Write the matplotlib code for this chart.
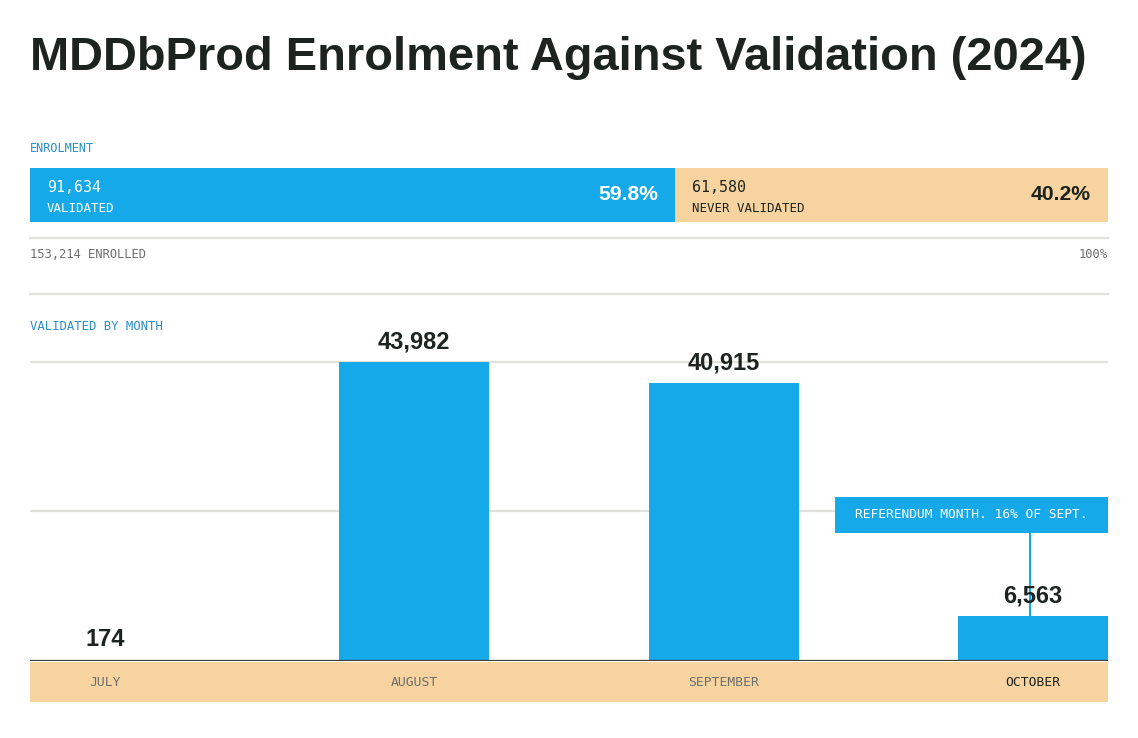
#!/usr/bin/env python3
import matplotlib; matplotlib.use('Agg')
import numpy as np
from matplotlib import pyplot as plt
from matplotlib import transforms as mtransforms
from matplotlib.lines import Line2D
from matplotlib.patches import Rectangle

BLUE = '#16A9EA'
PEACH = '#F7D39F'
DARK = '#1D2420'
GREY = '#6E6E6E'
LABEL_BLUE = '#2A8FC9'
GRID = '#E2E1DB'

SANS = ['Liberation Sans', 'DejaVu Sans']
MONO = ['DejaVu Sans Mono']

# Data ------------------------------------------------------------------------
title = 'MDDbProd Enrolment Against Validation (2024)'
validated = 91634
never_validated = 61580
total_enrolled = 153214

months = ['JULY', 'AUGUST', 'SEPTEMBER', 'OCTOBER']
monthly_validated = [174, 43982, 40915, 6563]
note = 'REFERENDUM MONTH. 16% OF SEPT.'

# Layout helpers (pixel -> figure fraction) -----------------------------------
W, H = 1138, 738
def fx(px):
    return px / W
def fy(py):
    return 1 - py / H

fig = plt.figure(figsize=(W / 100, H / 100), dpi=100)
fig.patch.set_facecolor('white')

left, right = 30, 1108

# title is set tight in the original, so fit it to the same width
t = fig.text(fx(left), fy(70), title, fontsize=35, fontweight='bold',
             color=DARK, family=SANS, ha='left', va='baseline')
renderer = fig.canvas.get_renderer()
tw = t.get_window_extent(renderer).width
t.set_fontsize(35 * 1055 / tw)

fig.text(fx(left), fy(149), 'ENROLMENT', fontsize=8.6, color=LABEL_BLUE,
         family=MONO, ha='left', va='center')

# Enrolment stacked bar -------------------------------------------------------
ax_top = fig.add_axes([fx(left), fy(222), (right - left) / W, 54 / H])
ax_top.barh(0, validated, height=1, color=BLUE, linewidth=0)
ax_top.barh(0, never_validated, left=validated, height=1, color=PEACH,
            linewidth=0)
ax_top.set_xlim(0, total_enrolled)
ax_top.set_ylim(-0.5, 0.5)
ax_top.axis('off')

pct_val = validated / total_enrolled * 100
pct_never = never_validated / total_enrolled * 100
pad = 17 / (right - left) * total_enrolled
ax_top.text(pad, 0.13, f'{validated:,}', fontsize=10.8, color='white',
            family=MONO, va='center')
ax_top.text(pad, -0.25, 'VALIDATED', fontsize=8.9, color='white',
            family=MONO, va='center')
ax_top.text(validated - pad, 0.0, f'{pct_val:.1f}%', fontsize=15.2,
            fontweight='bold', color='white', family=SANS, ha='right',
            va='center')
ax_top.text(validated + pad, 0.13, f'{never_validated:,}', fontsize=10.8,
            color=DARK, family=MONO, va='center')
ax_top.text(validated + pad, -0.25, 'NEVER VALIDATED', fontsize=8.9,
            color=DARK, family=MONO, va='center')
ax_top.text(total_enrolled - pad, 0.0, f'{pct_never:.1f}%', fontsize=15.2,
            fontweight='bold', color=DARK, family=SANS, ha='right',
            va='center')

for py in (238, 294):
    fig.add_artist(Line2D([fx(left), fx(right)], [fy(py), fy(py)],
                          color=GRID, lw=1.6))

fig.text(fx(left), fy(254), f'{total_enrolled:,} ENROLLED', fontsize=8.7,
         color=GREY, family=MONO, ha='left', va='center')
fig.text(fx(right), fy(254), '100%', fontsize=8.7, color=GREY,
         family=MONO, ha='right', va='center')

fig.text(fx(left), fy(327), 'VALIDATED BY MONTH', fontsize=8.8,
         color=LABEL_BLUE, family=MONO, ha='left', va='center')

# Monthly bars ----------------------------------------------------------------
ax = fig.add_axes([fx(left), fy(661), (right - left) / W, (661 - 294) / H])
ax.set_facecolor('none')
x = np.arange(len(months))
bar_width = 0.484
ax.bar(x, monthly_validated, bar_width, color=BLUE, linewidth=0, zorder=2)
ax.set_xlim(-bar_width / 2, len(months) - 1 + bar_width / 2)
ax.set_ylim(0, 54000)
for gy in (22000, 44000):
    ax.axhline(gy, color=GRID, lw=1.6, zorder=0)
ax.axhline(0, color='#3C3C3C', lw=1.6, zorder=3)
for xi, v in zip(x, monthly_validated):
    ax.annotate(f'{v:,}', (xi, v), xytext=(0, 10), textcoords='offset points',
                ha='center', va='baseline', fontsize=17, fontweight='bold',
                color=DARK, family=SANS, zorder=5)
ax.axis('off')

# Referendum note
box_x0 = (835 - left) / (right - left)
box_y0 = (661 - 533) / (661 - 294)
box_h = 36 / (661 - 294)
ax.add_patch(Rectangle((box_x0, box_y0), 1 - box_x0, box_h,
                       transform=ax.transAxes, color=BLUE, linewidth=0,
                       clip_on=False, zorder=4))
ax.text((box_x0 + 1) / 2, box_y0 + box_h / 2, note, transform=ax.transAxes,
        fontsize=9.3, color='white', family=MONO, ha='center', va='center',
        zorder=6)
blend = mtransforms.blended_transform_factory(ax.transData, ax.transAxes)
ax.annotate('', xy=(x[3] - 0.01, monthly_validated[3]),
            xytext=(x[3] - 0.01, box_y0), textcoords=blend,
            arrowprops=dict(arrowstyle='-', color=BLUE, lw=1.5,
                            shrinkA=0, shrinkB=0), zorder=4)

# Month label band
ax_band = fig.add_axes([fx(left), fy(702), (right - left) / W, 40 / H],
                       sharex=ax)
ax_band.set_facecolor(PEACH)
for spine in ax_band.spines.values():
    spine.set_visible(False)
ax_band.set_xticks([])
ax_band.set_yticks([])
ax_band.set_ylim(0, 1)
for i, (xi, m) in enumerate(zip(x, months)):
    ax_band.text(xi, 0.5, m, fontsize=9.4, family=MONO, ha='center',
                 va='center', color=DARK if i == len(months) - 1 else GREY)

plt.savefig('out.png', dpi=100)
plt.close()
